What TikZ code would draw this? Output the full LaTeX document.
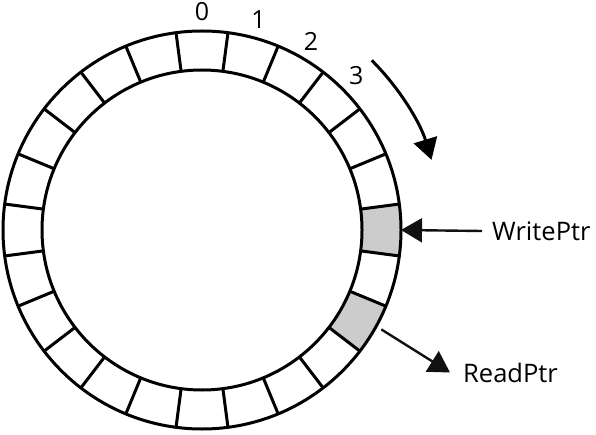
\documentclass[tikz,border=0pt]{standalone}
\usepackage{fontspec}
\setmainfont{Open Sans}
\usetikzlibrary{arrows.meta}
\definecolor{cellgray}{HTML}{CCCCCC}
\definecolor{ink}{HTML}{111111}
\begin{document}
\begin{tikzpicture}[x=1pt,y=1pt,
  ring/.style={line width=3pt},
  ptr/.style={line width=2.4pt, color=ink, -{Triangle[length=21pt,width=24pt]}},
  turn/.style={line width=3pt, -{Triangle[length=21pt,width=24pt]}},
  lbl/.style={font=\fontsize{25.5}{30}\selectfont, inner sep=0pt},
  idx/.style={font=\fontsize{25}{28}\selectfont, inner sep=0pt}]
\useasboundingbox (0,0) rectangle (596,434);
\coordinate (C) at (202,204);
% shaded cells
\fill[cellgray] ([shift={(-7.5:199)}]C) arc[start angle=-7.5,end angle=7.5,radius=199]
  -- ([shift={(7.5:160)}]C) arc[start angle=7.5,end angle=-7.5,radius=160] -- cycle;
\fill[cellgray] ([shift={(-37.5:199)}]C) arc[start angle=-37.5,end angle=-22.5,radius=199]
  -- ([shift={(-22.5:160)}]C) arc[start angle=-22.5,end angle=-37.5,radius=160] -- cycle;
% ring
\draw[ring] (C) circle[radius=199];
\draw[ring] (C) circle[radius=160];
\foreach \a in {7.5,22.5,...,352.5}
  \draw[ring] ([shift={(\a:160)}]C) -- ([shift={(\a:199)}]C);
% indices
\foreach \i/\a in {0/90,1/75,2/60,3/45}
  \node[idx] (n\i) at ([shift={(\a:218)}]C) {\i};
% direction arrow
\coordinate (turnstart) at ([shift={(45:240)}]C);
\draw[turn] (turnstart) arc[start angle=45,end angle=17,radius=240];
% pointers
\coordinate (wcell) at ([shift={(0:199)}]C);
\coordinate (rcell) at ([shift={(-29:205)}]C);
\node[lbl, anchor=west] (wp) at (492,203) {WritePtr};
\node[lbl, anchor=west] (rp) at (463,61.5) {ReadPtr};
\draw[ptr] ([xshift=-10pt]wp.west) -- (wcell);
\draw[ptr] (rcell) -- ([xshift=-13pt]rp.west);
\end{tikzpicture}
\end{document}
